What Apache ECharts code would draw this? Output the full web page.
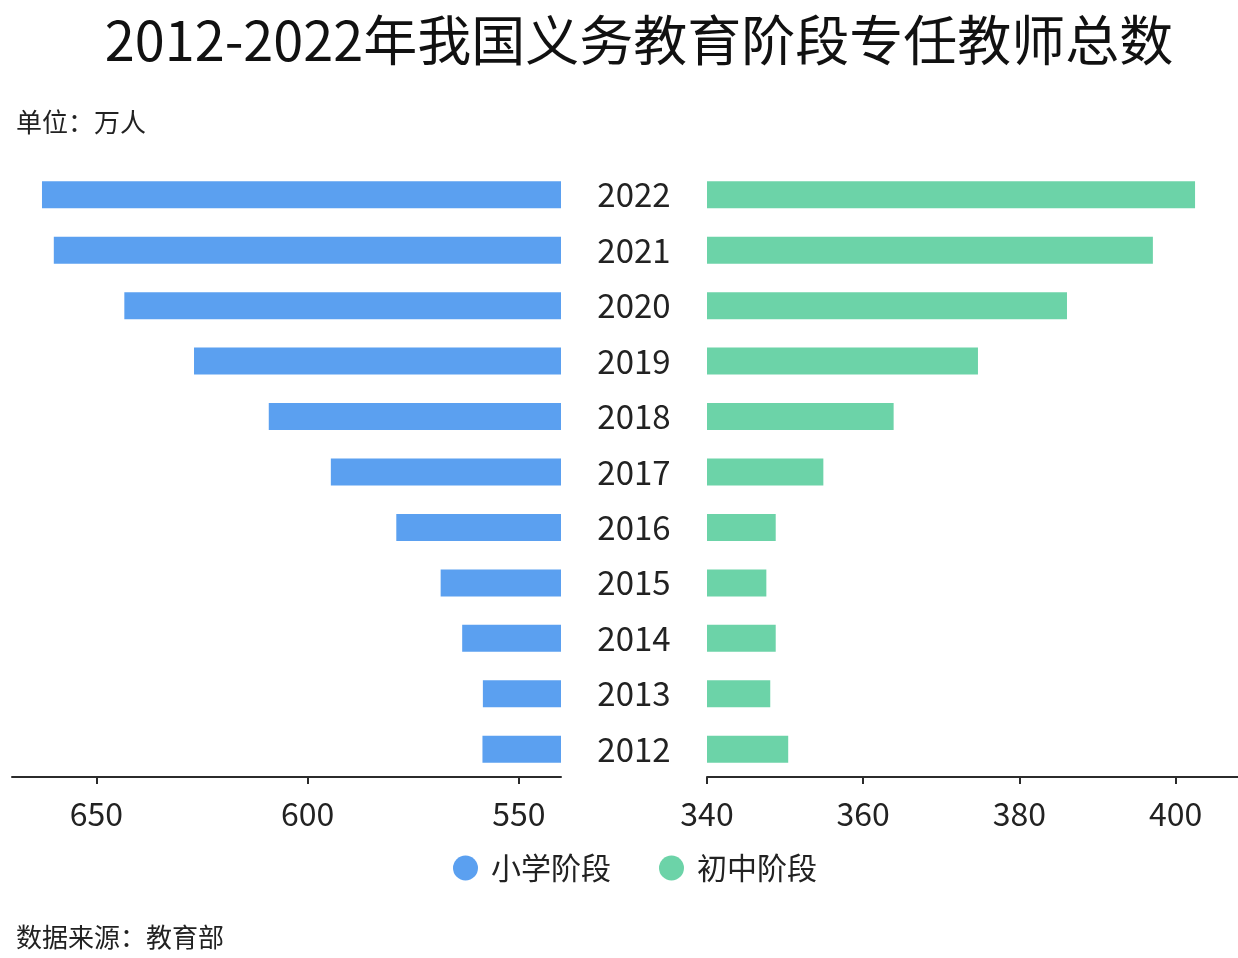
<!DOCTYPE html>
<html>
<head>
<meta charset="utf-8">
<script src="https://cdn.jsdelivr.net/npm/echarts@6/dist/echarts.min.js"></script>
<style>
html,body{margin:0;padding:0;background:#fff;}
#chart{width:1238px;height:958px;}
</style>
</head>
<body>
<div id="chart"></div>
<script>
const years = ['2012','2013','2014','2015','2016','2017','2018','2019','2020','2021','2022'];
const primary = [558.6, 558.5, 563.4, 568.5, 579.0, 594.5, 609.2, 626.9, 643.4, 660.1, 662.9];
const junior = [350.4, 348.1, 348.8, 347.6, 348.8, 354.9, 363.9, 374.7, 386.1, 397.1, 402.5];
const leftTicks = [550, 600, 650];
const rightTicks = [340, 360, 380, 400];
const seriesNames = ['小学阶段', '初中阶段'];

const FONT = '"Noto Sans CJK SC", "Noto Sans", sans-serif';
const BLUE = '#5ba0f0';
const GREEN = '#6cd3a8';
const axisLineStyle = { color: '#2b2b2b', width: 2 };

const chart = echarts.init(document.getElementById('chart'), null, { renderer: 'canvas' });
chart.setOption({
  backgroundColor: '#ffffff',
  textStyle: { fontFamily: FONT },
  title: [
    { text: '2012-2022年我国义务教育阶段专任教师总数', left: 634, textAlign: 'center', top: 8,
      textStyle: { fontSize: 54, fontWeight: 'normal', color: '#111', fontFamily: FONT } },
    { text: '单位：万人', left: 11, top: 104,
      textStyle: { fontSize: 26, fontWeight: 'normal', color: '#222', fontFamily: FONT } },
    { text: '数据来源：教育部', left: 11, top: 919,
      textStyle: { fontSize: 26, fontWeight: 'normal', color: '#222', fontFamily: FONT } }
  ],
  legend: {
    data: seriesNames,
    left: 448, top: 848,
    icon: 'circle', itemWidth: 25, itemHeight: 25, itemGap: 48,
    textStyle: { fontSize: 30, color: '#222', fontFamily: FONT, padding: [0, 0, 0, 8] }
  },
  grid: [
    { left: 12, right: 677, top: 167, bottom: 181 },
    { left: 707, right: 0, top: 167, bottom: 181 }
  ],
  xAxis: [
    { type: 'value', gridIndex: 0, inverse: true, min: 540, max: 670,
      axisLine: { show: true, lineStyle: axisLineStyle },
      axisTick: { show: true, length: 7, lineStyle: axisLineStyle, customValues: leftTicks },
      axisLabel: { fontSize: 32, color: '#222', margin: 21, fontFamily: FONT, customValues: leftTicks },
      splitLine: { show: false } },
    { type: 'value', gridIndex: 1, min: 340, max: 408,
      axisLine: { show: true, lineStyle: axisLineStyle },
      axisTick: { show: true, length: 7, lineStyle: axisLineStyle, customValues: rightTicks },
      axisLabel: { fontSize: 32, color: '#222', margin: 21, fontFamily: FONT, customValues: rightTicks },
      splitLine: { show: false } }
  ],
  yAxis: [
    { type: 'category', gridIndex: 0, data: years,
      axisLine: { show: false }, axisTick: { show: false }, axisLabel: { show: false } },
    { type: 'category', gridIndex: 1, data: years,
      axisLine: { show: false }, axisTick: { show: false },
      axisLabel: { show: true, fontSize: 33, color: '#222', align: 'center', margin: 73, fontFamily: FONT } }
  ],
  series: [
    { name: seriesNames[0], type: 'bar', xAxisIndex: 0, yAxisIndex: 0, data: primary,
      barWidth: 27, itemStyle: { color: BLUE }, silent: true },
    { name: seriesNames[1], type: 'bar', xAxisIndex: 1, yAxisIndex: 1, data: junior,
      barWidth: 27, itemStyle: { color: GREEN }, silent: true }
  ],
  animation: false
});
</script>
</body>
</html>
